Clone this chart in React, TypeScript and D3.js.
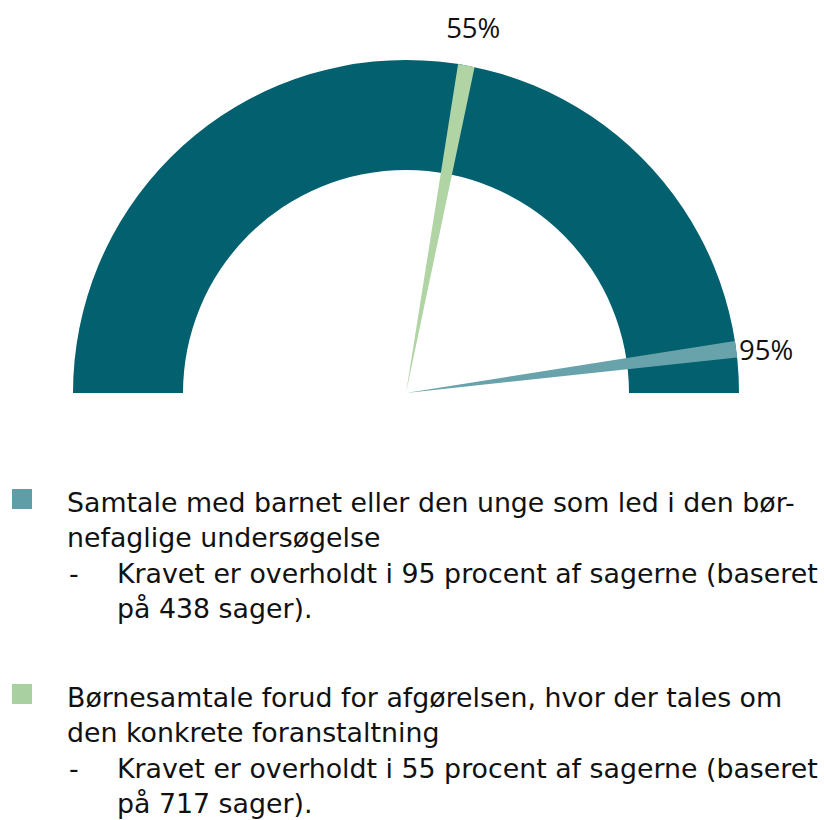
import React, { useEffect, useRef } from 'react';
import * as d3 from 'd3';

// gauge values (percent of cases meeting the requirement)
const gaugeValues = [95, 55];
const gaugeLabels = ['95%', '55%'];
const needleColors = ['#68a3ab', '#b0d4a4'];

// legend
const legendTitles = [
    ['Samtale med barnet eller den unge som led i den bør-', 'nefaglige undersøgelse'],
    ['Børnesamtale forud for afgørelsen, hvor der tales om', 'den konkrete foranstaltning'],
];
const legendNotes = [
    ['Kravet er overholdt i 95 procent af sagerne (baseret', 'på 438 sager).'],
    ['Kravet er overholdt i 55 procent af sagerne (baseret', 'på 717 sager).'],
];
const legendColors = ['#5f9ea6', '#a9d0a0'];

const App = () => {
    const svgRef = useRef<SVGSVGElement>(null);

    useEffect(() => {
        const svg = d3.select(svgRef.current);
        svg.selectAll('*').remove();

        const cx = 406;
        const cy = 393;
        const outerR = 333;
        const innerR = 223;
        const needleWidth = 1.6; // in percent

        const angle = d3.scaleLinear().domain([0, 100]).range([-Math.PI / 2, Math.PI / 2]);

        const g = svg.append('g').attr('transform', `translate(${cx},${cy})`);

        // background band
        const band = d3.arc()
            .innerRadius(innerR)
            .outerRadius(outerR)
            .startAngle(angle(0))
            .endAngle(angle(100));
        g.append('path').attr('d', band({} as any)).attr('fill', '#03606f');

        // needles
        const needle = d3.arc<number>()
            .innerRadius(0)
            .outerRadius(outerR)
            .startAngle(d => angle(d))
            .endAngle(d => angle(d + needleWidth));

        g.selectAll('.needle')
            .data(gaugeValues)
            .enter()
            .append('path')
            .attr('class', 'needle')
            .attr('d', d => needle(d))
            .attr('fill', (d, i) => needleColors[i]);

        // labels at the needle tips
        gaugeValues.forEach((v, i) => {
            const a = angle(v + needleWidth / 2);
            const r = v > 80 ? outerR + 3 : outerR + 38;
            const x = Math.sin(a) * r;
            const y = -Math.cos(a) * r;
            g.append('text')
                .attr('x', x)
                .attr('y', y + (v > 80 ? 2 : 0))
                .attr('dy', '0.35em')
                .attr('text-anchor', v > 80 ? 'start' : 'middle')
                .attr('font-family', '"Open Sans", sans-serif')
                .attr('font-size', 27.5)
                .attr('fill', '#111')
                .text(gaugeLabels[i]);
        });

        // legend
        const legend = svg.append('g').attr('font-family', '"DejaVu Sans", Verdana, sans-serif')
            .attr('font-size', 26.8)
            .attr('fill', '#111');
        const blockTop = [512, 707];
        const lineH = 35.3;
        legendTitles.forEach((lines, i) => {
            const y0 = blockTop[i];
            legend.append('rect')
                .attr('x', 12)
                .attr('y', y0 - 23)
                .attr('width', 20)
                .attr('height', 20)
                .attr('fill', legendColors[i]);
            lines.forEach((t, j) => {
                legend.append('text').attr('x', 67).attr('y', y0 + j * lineH).text(t);
            });
            legend.append('text').attr('x', 69).attr('y', y0 + 2 * lineH).text('-');
            legendNotes[i].forEach((t, j) => {
                legend.append('text').attr('x', 117).attr('y', y0 + (2 + j) * lineH).text(t);
            });
        });
    }, []);

    return (
        <svg
            ref={svgRef}
            width={824}
            height={820}
            style={{ position: 'absolute', left: 0, top: 0, background: '#fff' }}
        />
    );
};

export default App;
